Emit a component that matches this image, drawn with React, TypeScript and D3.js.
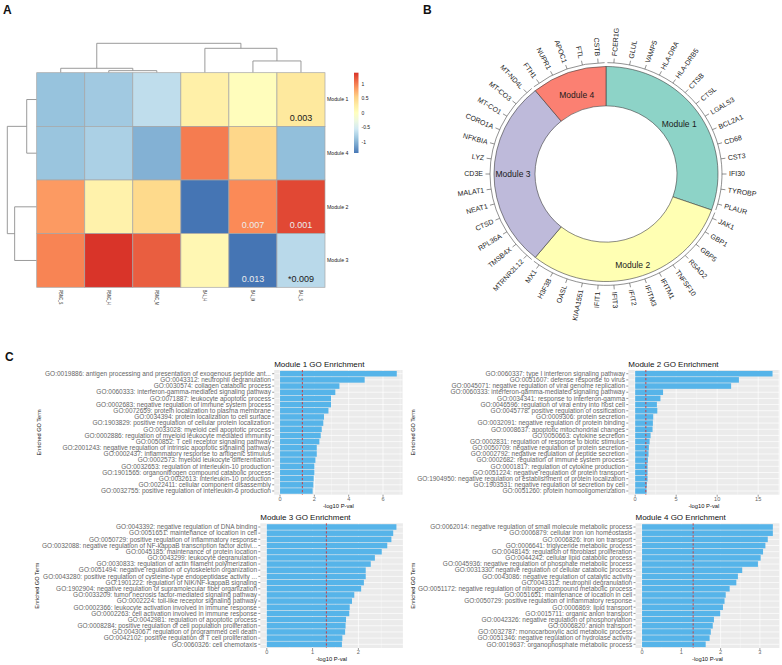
import React from 'react';
import * as d3 from 'd3';

const FONT = '"Liberation Sans", Arial, Helvetica, sans-serif';

// ---------------- Panel A data ----------------
const heatCols = ['PBMC_S', 'PBMC_H', 'PBMC_M', 'BAL_H', 'BAL_M', 'BAL_S'];
const heatRows = ['Module 1', 'Module 4', 'Module 2', 'Module 3'];
const heatValues = [
  [-0.9, -0.84, -0.66, 0.23, 0.03, 0.33],
  [-0.88, -0.78, -1.02, 1.02, 0.52, -0.93],
  [0.86, 0.2, 0.5, -1.4, 0.95, 1.28],
  [0.98, 1.38, 1.17, 0.12, -1.4, -0.7],
];
const heatNoteRow = [0, 2, 2, 3, 3];
const heatNoteCol = [5, 4, 5, 4, 5];
const heatNoteText = ['0.003', '0.007', '0.001', '0.013', '*0.009'];
const heatPalette = ['#4575B4', '#91BFDB', '#E0F3F8', '#FFFFBF', '#FEE090', '#FC8D59', '#D73027'];
const legendTicks = [1, 0.5, 0, -0.5, -1];
type Tree = number | { h: number; c: [Tree, Tree] };
const colTree: Tree = { h: 1, c: [{ h: 0.15, c: [0, { h: 0.07, c: [1, 2] }] }, { h: 0.83, c: [3, { h: 0.4, c: [4, 5] }] }] };
const rowTree: Tree = { h: 1, c: [{ h: 0.34, c: [0, 1] }, { h: 0.75, c: [2, 3] }] };

// ---------------- Panel B data ----------------
const moduleNames = ['Module 1', 'Module 2', 'Module 3', 'Module 4'];
const moduleColors = ['#8DD3C7', '#FFFFB3', '#BEBADA', '#FB8072'];
const genesModule1 = ['FCER1G', 'GLUL', 'VAMP5', 'HLA-DRA', 'HLA-DRB5', 'CTSB', 'CTSL', 'LGALS3', 'BCL2A1', 'CD68', 'CST3', 'IFI30', 'TYROBP', 'PLAUR'];
const genesModule2 = ['JAK1', 'GBP1', 'GBP5', 'RSAD2', 'TNFSF10', 'IFITM1', 'IFITM3', 'IFIT2', 'IFIT3', 'IFIT1', 'KIAA1551', 'OASL', 'H3F3B', 'MX1'];
const genesModule3 = ['MTRNR2L12', 'TMSB4X', 'RPL36A', 'CTSD', 'NEAT1', 'MALAT1', 'CD3E', 'LYZ', 'NFKBIA', 'CORO1A', 'MT-CO1', 'MT-CO3', 'MT-ND4L'];
const genesModule4 = ['FTH1', 'NUPR1', 'APOC1', 'FTL', 'CSTB'];

// ---------------- Panel C data ----------------
const goTerms1 = [
  'GO:0019886: antigen processing and presentation of exogenous peptide ant...',
  'GO:0043312: neutrophil degranulation',
  'GO:0030574: collagen catabolic process',
  'GO:0060333: interferon-gamma-mediated signaling pathway',
  'GO:0071887: leukocyte apoptotic process',
  'GO:0002683: negative regulation of immune system process',
  'GO:0072659: protein localization to plasma membrane',
  'GO:0034394: protein localization to cell surface',
  'GO:1903829: positive regulation of cellular protein localization',
  'GO:0033028: myeloid cell apoptotic process',
  'GO:0002886: regulation of myeloid leukocyte mediated immunity',
  'GO:0050852: T cell receptor signaling pathway',
  'GO:2001243: negative regulation of intrinsic apoptotic signaling pathway',
  'GO:0002437: inflammatory response to antigenic stimulus',
  'GO:0002573: myeloid leukocyte differentiation',
  'GO:0032653: regulation of interleukin-10 production',
  'GO:1901565: organonitrogen compound catabolic process',
  'GO:0032613: interleukin-10 production',
  'GO:0022411: cellular component disassembly',
  'GO:0032755: positive regulation of interleukin-6 production',
];
const goVals1 = [6.8, 4.93, 3.46, 3.22, 2.97, 2.97, 2.82, 2.56, 2.52, 2.43, 2.37, 2.29, 2.14, 2.14, 2.06, 2.0, 2.0, 1.96, 1.94, 1.9];

const goTerms2 = [
  'GO:0060337: type I interferon signaling pathway',
  'GO:0051607: defense response to virus',
  'GO:0045071: negative regulation of viral genome replication',
  'GO:0060333: interferon-gamma-mediated signaling pathway',
  'GO:0034341: response to interferon-gamma',
  'GO:0046596: regulation of viral entry into host cell',
  'GO:0045778: positive regulation of ossification',
  'GO:0009306: protein secretion',
  'GO:0032091: negative regulation of protein binding',
  'GO:0008637: apoptotic mitochondrial changes',
  'GO:0050663: cytokine secretion',
  'GO:0002831: regulation of response to biotic stimulus',
  'GO:0050709: negative regulation of protein secretion',
  'GO:0002792: negative regulation of peptide secretion',
  'GO:0002682: regulation of immune system process',
  'GO:0001817: regulation of cytokine production',
  'GO:0051224: negative regulation of protein transport',
  'GO:1904950: negative regulation of establishment of protein localization',
  'GO:1903531: negative regulation of secretion by cell',
  'GO:0051260: protein homooligomerization',
];
const goVals2 = [16.75, 12.65, 11.7, 3.4, 3.08, 2.65, 2.7, 2.2, 2.16, 2.12, 1.88, 1.76, 1.67, 1.63, 1.55, 1.51, 1.51, 1.51, 1.43, 1.39];

const goTerms3 = [
  'GO:0043392: negative regulation of DNA binding',
  'GO:0051651: maintenance of location in cell',
  'GO:0050729: positive regulation of inflammatory response',
  'GO:0032088: negative regulation of NF-kappaB transcription factor activi...',
  'GO:0045185: maintenance of protein location',
  'GO:0043299: leukocyte degranulation',
  'GO:0030833: regulation of actin filament polymerization',
  'GO:0051494: negative regulation of cytoskeleton organization',
  'GO:0043280: positive regulation of cysteine-type endopeptidase activity ...',
  'GO:1901222: regulation of NIK/NF-kappaB signaling',
  'GO:1902904: negative regulation of supramolecular fiber organization',
  'GO:0033209: tumor necrosis factor-mediated signaling pathway',
  'GO:0002224: toll-like receptor signaling pathway',
  'GO:0002366: leukocyte activation involved in immune response',
  'GO:0002263: cell activation involved in immune response',
  'GO:0042981: regulation of apoptotic process',
  'GO:0008284: positive regulation of cell population proliferation',
  'GO:0043067: regulation of programmed cell death',
  'GO:0042102: positive regulation of T cell proliferation',
  'GO:0060326: cell chemotaxis',
];
const goVals3 = [2.83, 2.76, 2.72, 2.63, 2.51, 2.36, 2.27, 2.16, 2.16, 2.12, 2.06, 1.91, 1.86, 1.81, 1.8, 1.73, 1.72, 1.71, 1.65, 1.64];

const goTerms4 = [
  'GO:0062014: negative regulation of small molecule metabolic process',
  'GO:0006879: cellular iron ion homeostasis',
  'GO:0006826: iron ion transport',
  'GO:0006641: triglyceride metabolic process',
  'GO:0048145: regulation of fibroblast proliferation',
  'GO:0044242: cellular lipid catabolic process',
  'GO:0045936: negative regulation of phosphate metabolic process',
  'GO:0031330: negative regulation of cellular catabolic process',
  'GO:0043086: negative regulation of catalytic activity',
  'GO:0043312: neutrophil degranulation',
  'GO:0051172: negative regulation of nitrogen compound metabolic process',
  'GO:0051651: maintenance of location in cell',
  'GO:0050729: positive regulation of inflammatory response',
  'GO:0006869: lipid transport',
  'GO:0015711: organic anion transport',
  'GO:0042326: negative regulation of phosphorylation',
  'GO:0006820: anion transport',
  'GO:0032787: monocarboxylic acid metabolic process',
  'GO:0051346: negative regulation of hydrolase activity',
  'GO:0019637: organophosphate metabolic process',
];
const goVals4 = [3.33, 3.33, 3.2, 3.14, 3.08, 3.02, 2.95, 2.55, 2.44, 2.4, 2.23, 2.13, 2.1, 2.06, 1.99, 1.83, 1.8, 1.75, 1.72, 1.62];
const pCutoff = -Math.log10(0.05);

// ---------------- Panel A ----------------
function dendro(t: Tree, leafPos: (i: number) => number, segs: number[][]): { p: number; h: number } {
  if (typeof t === 'number') return { p: leafPos(t), h: 0 };
  const a = dendro(t.c[0], leafPos, segs);
  const b = dendro(t.c[1], leafPos, segs);
  segs.push([a.p, a.h, a.p, t.h]);
  segs.push([b.p, b.h, b.p, t.h]);
  segs.push([a.p, t.h, b.p, t.h]);
  return { p: (a.p + b.p) / 2, h: t.h };
}

function Heatmap() {
  const x = d3.scaleBand<string>().domain(heatCols).range([36.7, 325]);
  const y = d3.scaleBand<string>().domain(heatRows).range([72.7, 287.3]);
  const color = d3
    .scaleLinear<string>()
    .domain(d3.range(7).map((i) => -1.4 + (i * 2.8) / 6))
    .range(heatPalette)
    .clamp(true);
  const colH = d3.scaleLinear().domain([0, 1]).range([72.7, 43.3]);
  const rowH = d3.scaleLinear().domain([0, 1]).range([36.7, 7.3]);
  const colSegs: number[][] = [];
  dendro(colTree, (i) => (x(heatCols[i]) as number) + x.bandwidth() / 2, colSegs);
  const rowSegs: number[][] = [];
  dendro(rowTree, (i) => (y(heatRows[i]) as number) + y.bandwidth() / 2, rowSegs);
  const legY = d3.scaleLinear().domain([-1.38, 1.39]).range([153, 72.7]);
  const stops = d3.range(0, 1.0001, 0.1).map((t) => {
    const v = -1.38 + t * 2.77;
    return { off: t, c: color(v) };
  });
  return (
    <g>
      <defs>
        <linearGradient id="heatLeg" x1="0" y1="1" x2="0" y2="0">
          {stops.map((s, i) => (
            <stop key={i} offset={s.off} stopColor={s.c} />
          ))}
        </linearGradient>
      </defs>
      {colSegs.map((s, i) => (
        <line key={'c' + i} x1={s[0]} y1={colH(s[1])} x2={s[2]} y2={colH(s[3])} stroke="#8f8f8f" strokeWidth={0.9} />
      ))}
      {rowSegs.map((s, i) => (
        <line key={'r' + i} x1={rowH(s[1])} y1={s[0]} x2={rowH(s[3])} y2={s[2]} stroke="#8f8f8f" strokeWidth={0.9} />
      ))}
      {heatRows.map((r, ri) =>
        heatCols.map((c, ci) => (
          <rect
            key={r + c}
            x={x(c)}
            y={y(r)}
            width={x.bandwidth()}
            height={y.bandwidth()}
            fill={color(heatValues[ri][ci])}
            stroke="#a6a6a6"
            strokeWidth={0.7}
          />
        ))
      )}
      {heatNoteText.map((t, i) => {
        const r = heatRows[heatNoteRow[i]];
        const c = heatCols[heatNoteCol[i]];
        const v = heatValues[heatNoteRow[i]][heatNoteCol[i]];
        return (
          <text
            key={'n' + i}
            x={(x(c) as number) + x.bandwidth() / 2}
            y={(y(r) as number) + y.bandwidth() - 5.5}
            textAnchor="middle"
            fontSize={9}
            fill={Math.abs(v) > 0.8 ? '#ececec' : '#1a1a1a'}
          >
            {t}
          </text>
        );
      })}
      {heatRows.map((r) => (
        <text key={'rl' + r} x={327} y={(y(r) as number) + y.bandwidth() / 2} dy="0.35em" fontSize={5.2} fill="#222">
          {r}
        </text>
      ))}
      {heatCols.map((c) => (
        <text
          key={'cl' + c}
          transform={`translate(${(x(c) as number) + x.bandwidth() / 2},290) rotate(90) scale(0.7,1)`}
          dy="0.35em"
          fontSize={5}
          fill="#222"
        >
          {c}
        </text>
      ))}
      <rect x={354} y={72.7} width={4.5} height={153 - 72.7} fill="url(#heatLeg)" />
      {legendTicks.map((t) => (
        <text key={'lt' + t} x={361.5} y={legY(t)} dy="0.35em" fontSize={5} fill="#222">
          {t}
        </text>
      ))}
    </g>
  );
}

// ---------------- Panel B ----------------
function Donut() {
  const cx = 606;
  const cy = 174;
  const ys = 0.96;
  const groups = [genesModule1, genesModule2, genesModule3, genesModule4];
  const total = d3.sum(groups, (g) => g.length);
  const ang = d3.scaleLinear().domain([0, total]).range([0, 2 * Math.PI]);
  const arc = d3.arc<any>().innerRadius(71).outerRadius(112);
  const offsets = groups.map((g, i) => d3.sum(groups.slice(0, i), (h) => h.length));
  const pt = (a: number, r: number) => [cx + r * Math.sin(a), cy - r * ys * Math.cos(a)];
  const gap = 0.012;
  return (
    <g>
      <g transform={`translate(${cx},${cy}) scale(1,${ys})`}>
        {groups.map((g, i) => (
          <path
            key={'s' + i}
            d={arc({ startAngle: ang(offsets[i]), endAngle: ang(offsets[i] + g.length) }) as string}
            fill={moduleColors[i]}
            stroke="#3a3a3a"
            strokeWidth={0.6}
          />
        ))}
        {groups.map((g, i) => {
          const p = d3.path();
          const a0 = ang(offsets[i]) + gap - Math.PI / 2;
          const a1 = ang(offsets[i] + g.length) - gap - Math.PI / 2;
          p.arc(0, 0, 116, a0, a1);
          return <path key={'t' + i} d={p.toString()} fill="none" stroke="#444" strokeWidth={0.6} />;
        })}
        {groups.map((g, i) =>
          g.map((gene, j) => {
            const a = ang(offsets[i] + j + 0.5);
            return (
              <line
                key={'k' + gene}
                x1={116 * Math.sin(a)}
                y1={-116 * Math.cos(a)}
                x2={120.5 * Math.sin(a)}
                y2={-120.5 * Math.cos(a)}
                stroke="#444"
                strokeWidth={0.6}
              />
            );
          })
        )}
      </g>
      {groups.map((g, i) =>
        g.map((gene, j) => {
          const a = ang(offsets[i] + j + 0.5);
          const deg = (a * 180) / Math.PI;
          const [px, py] = pt(a, 123);
          const right = deg < 180;
          return (
            <text
              key={'g' + gene}
              transform={`translate(${px},${py}) rotate(${right ? deg - 90 : deg + 90})`}
              textAnchor={right ? 'start' : 'end'}
              dy="0.35em"
              fontSize={7}
              fill="#1a1a1a"
            >
              {gene}
            </text>
          );
        })
      )}
      {groups.map((g, i) => {
        const mid = ang(offsets[i] + g.length / 2);
        const r = 93 - 6 * Math.cos(mid);
        const [px, py] = pt(mid, r);
        return (
          <text key={'m' + i} x={px} y={py} dy="0.35em" textAnchor="middle" fontSize={8.5} fill="#1a1a1a">
            {moduleNames[i]}
          </text>
        );
      })}
    </g>
  );
}

// ---------------- Panel C ----------------
type PanelProps = {
  title: string;
  terms: string[];
  values: number[];
  left: number;
  right: number;
  top: number;
  bottom: number;
  yTitleX: number;
};

function GoPanel({ title, terms, values, left, right, top, bottom, yTitleX }: PanelProps) {
  const M = d3.max(values) as number;
  const x = d3.scaleLinear().domain([-0.05 * M, 1.05 * M]).range([left, right]);
  const y = d3.scalePoint<string>().domain(terms).range([top, bottom]).padding(0.6);
  const bh = y.step() * 0.9;
  const major = x.ticks(4);
  const st = major[1] - major[0];
  const minor = d3
    .range(major[0] - st / 2, x.domain()[1], st)
    .filter((v) => v >= x.domain()[0] && v <= x.domain()[1]);
  return (
    <g>
      <text x={left} y={top - 3.3} fontSize={8} fill="#111">
        {title}
      </text>
      <rect x={left} y={top} width={right - left} height={bottom - top} fill="#EBEBEB" />
      {minor.map((v) => (
        <line key={'mi' + v} x1={x(v)} x2={x(v)} y1={top} y2={bottom} stroke="#fff" strokeWidth={0.35} />
      ))}
      {major.map((v) => (
        <line key={'ma' + v} x1={x(v)} x2={x(v)} y1={top} y2={bottom} stroke="#fff" strokeWidth={0.7} />
      ))}
      {terms.map((t) => (
        <line key={'h' + t} x1={left} x2={right} y1={y(t)} y2={y(t)} stroke="#fff" strokeWidth={0.7} />
      ))}
      {terms.map((t, i) => (
        <rect
          key={'b' + t}
          x={x(0)}
          y={(y(t) as number) - bh / 2}
          width={x(values[i]) - x(0)}
          height={bh}
          fill="#56B4E9"
        />
      ))}
      <line
        x1={x(pCutoff)}
        x2={x(pCutoff)}
        y1={top}
        y2={bottom}
        stroke="#E0231C"
        strokeWidth={0.8}
        strokeDasharray="2.2,1.8"
      />
      {terms.map((t) => (
        <g key={'yl' + t}>
          <line x1={left - 2} x2={left} y1={y(t)} y2={y(t)} stroke="#333" strokeWidth={0.5} />
          <text x={left - 3.3} y={y(t)} dy="0.35em" textAnchor="end" fontSize={6.5} fill="#666">
            {t}
          </text>
        </g>
      ))}
      {major.map((v) => (
        <g key={'xt' + v}>
          <line x1={x(v)} x2={x(v)} y1={bottom} y2={bottom + 2} stroke="#333" strokeWidth={0.5} />
          <text x={x(v)} y={bottom + 6.4} textAnchor="middle" fontSize={5.6} fill="#666">
            {v}
          </text>
        </g>
      ))}
      <text x={(left + right) / 2} y={bottom + 12.8} textAnchor="middle" fontSize={5.8} fill="#111">
        -log10 P-val
      </text>
      <text
        transform={`translate(${yTitleX},${(top + bottom) / 2}) rotate(-90)`}
        textAnchor="middle"
        dy="0.35em"
        fontSize={5.6}
        fill="#111"
      >
        Enriched GO Term
      </text>
    </g>
  );
}

export default function App() {
  return (
    <svg
      width={782}
      height={665}
      style={{ position: 'absolute', left: 0, top: 0, background: '#fff' }}
      fontFamily={FONT}
    >
      <rect width={782} height={665} fill="#fff" />
      <text x={3} y={13.5} fontSize={12} fontWeight="bold" fill="#111">A</text>
      <text x={423} y={13.5} fontSize={12} fontWeight="bold" fill="#111">B</text>
      <text x={5} y={360.5} fontSize={12} fontWeight="bold" fill="#111">C</text>
      <Heatmap />
      <Donut />
      <GoPanel title="Module 1 GO Enrichment" terms={goTerms1} values={goVals1} left={274.2} right={402.6} top={370} bottom={494.7} yTitleX={39} />
      <GoPanel title="Module 2 GO Enrichment" terms={goTerms2} values={goVals2} left={628.3} right={779.4} top={370} bottom={494.7} yTitleX={413.3} />
      <GoPanel title="Module 3 GO Enrichment" terms={goTerms3} values={goVals3} left={260.3} right={402.9} top={523.3} bottom={648} yTitleX={36.7} />
      <GoPanel title="Module 4 GO Enrichment" terms={goTerms4} values={goVals4} left={635.5} right={779.4} top={523.3} bottom={648} yTitleX={413.3} />
    </svg>
  );
}
